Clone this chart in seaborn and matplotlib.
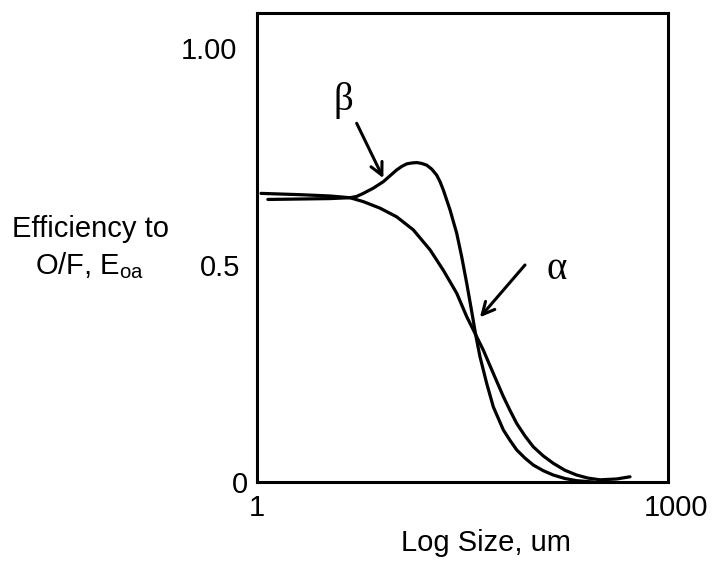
import matplotlib
matplotlib.use("Agg")
import matplotlib.pyplot as plt
from matplotlib.transforms import ScaledTranslation
import numpy as np
import pandas as pd
import seaborn as sns

# Curve alpha: smooth partition curve (size in um, efficiency fraction)
size_alpha = [1.20, 2.06, 3.41, 4.77, 5.97, 7.90, 10.46, 13.83, 18.32, 22.90,
              28.69, 33.94, 38.4, 44.85, 53.1, 62.8, 70.25, 78.6, 90.4, 104.0,
              123.0, 145.5, 177.0, 215.6, 260.6, 318.8, 422.4, 528.0]
eff_alpha = [0.651, 0.652, 0.653, 0.655, 0.646, 0.631, 0.611, 0.581, 0.535,
             0.488, 0.435, 0.381, 0.347, 0.304, 0.250, 0.197, 0.165, 0.135,
             0.106, 0.081, 0.060, 0.043, 0.027, 0.016, 0.009, 0.005, 0.007,
             0.012]

# Curve beta: partition curve with a hump before the cut
size_beta = [1.07, 2.06, 3.41, 4.77, 5.34, 5.97, 7.06, 8.36, 10.46, 11.38,
             12.38, 13.46, 14.65, 15.93, 17.33, 18.84, 20.50, 21.67, 22.90,
             25.64, 28.69, 31.20, 33.94, 36.91, 39.68, 42.4, 47.5, 53.1, 62.8,
             70.25, 78.6, 90.4, 104.0, 123.0, 145.5, 177.0, 215.6, 285.0]
eff_beta = [0.665, 0.662, 0.659, 0.655, 0.658, 0.665, 0.677, 0.692, 0.719,
            0.727, 0.733, 0.735, 0.736, 0.734, 0.730, 0.721, 0.707, 0.692,
            0.673, 0.627, 0.573, 0.519, 0.458, 0.393, 0.335, 0.289, 0.227,
            0.173, 0.120, 0.096, 0.074, 0.055, 0.039, 0.026, 0.016, 0.008,
            0.003, 0.0]

y_ticks = [0, 0.5, 1.0]
y_tick_labels = ["0", "0.5", "1.00"]
y_tick_pads = [6.5, 12.0, 14.0]
x_ticks = [1, 1000]
x_tick_labels = ["1", "1000"]

df = pd.concat([
    pd.DataFrame({"size": size_alpha, "eff": eff_alpha, "curve": "alpha"}),
    pd.DataFrame({"size": size_beta, "eff": eff_beta, "curve": "beta"}),
], ignore_index=True)

sns.set_theme(style="white")
plt.rcParams["font.family"] = ["Liberation Sans", "DejaVu Sans"]
plt.rcParams["mathtext.default"] = "regular"

fig = plt.figure(figsize=(7.12, 5.61), dpi=100)
ax = fig.add_axes([257 / 712, 79 / 561, 411 / 712, 469 / 561])

sns.lineplot(data=df, x="size", y="eff", hue="curve",
             palette={"alpha": "black", "beta": "black"},
             estimator=None, sort=False, legend=False, linewidth=2.3, ax=ax)
for ln in ax.lines:
    ln.set_solid_joinstyle("round")
    ln.set_solid_capstyle("round")

ax.set_xscale("log")
ax.set_xlim(1, 1000)
ax.set_ylim(0, 1.0806)
ax.set_xlabel("")
ax.set_ylabel("")

for sp in ax.spines.values():
    sp.set_visible(True)
    sp.set_color("black")
    sp.set_linewidth(2.2)

ax.set_yticks(y_ticks, y_tick_labels)
ax.set_xticks(x_ticks, x_tick_labels)
ax.minorticks_off()
ax.tick_params(axis="both", length=0, labelsize=21, colors="black")
ax.tick_params(axis="x", pad=9)
for tick, pad in zip(ax.yaxis.get_major_ticks(), y_tick_pads):
    tick.set_pad(pad)

# nudge the right-hand x label a little outward
last = ax.get_xticklabels()[-1]
last.set_transform(last.get_transform() + ScaledTranslation(8 / 100, 0, fig.dpi_scale_trans))

# Axis titles
fig.text(90 / 712, 1 - 229 / 561, "Efficiency to", ha="center", va="center",
         fontsize=21, color="black")
fig.text(90 / 712, 1 - 266 / 561, "O/F, E$_{oa}$", ha="center", va="center",
         fontsize=21, color="black")
fig.text(486 / 712, 1 - 543 / 561, "Log Size, um", ha="center", va="center",
         fontsize=21, color="black")

# Greek curve labels with pointer arrows
arrow = dict(arrowstyle="->", color="black", lw=2.2,
             mutation_scale=22, shrinkA=0, shrinkB=0)
ax.annotate("", xy=(8.36, 0.700), xytext=(5.34, 0.8265), arrowprops=arrow)
ax.annotate("", xy=(42.4, 0.3795), xytext=(90.4, 0.500), arrowprops=arrow)
ax.text(4.24, 0.880, "β", fontsize=28, family="Liberation Serif",
        ha="center", va="center", color="black")
ax.text(154, 0.490, "α", fontsize=28, family="Liberation Serif",
        ha="center", va="center", color="black")

fig.savefig("out.png", dpi=100)
